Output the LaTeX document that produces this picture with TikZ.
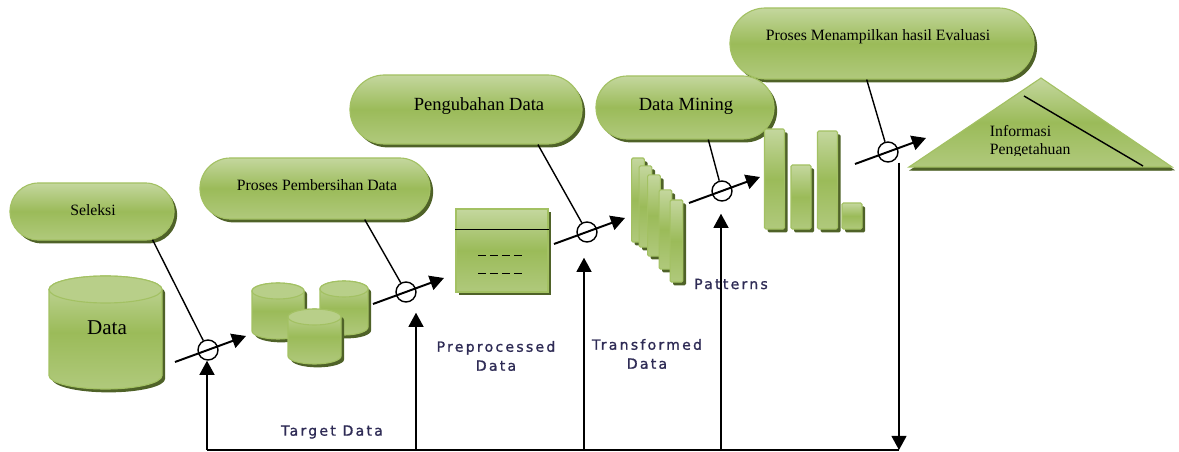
\documentclass[tikz,border=0pt]{standalone}
\usepackage{fontspec}
\setmainfont{Liberation Serif}
\newfontfamily\labelfont[LetterSpace=16,FakeBold=1.2]{DejaVu Sans}
\usetikzlibrary{arrows.meta,shapes.misc,shadows,calc}

\definecolor{oliveT}{HTML}{C4D79E}
\definecolor{oliveM}{HTML}{9BBB59}
\definecolor{oliveB}{HTML}{B0C97C}
\definecolor{oliveEdge}{HTML}{A3C163}
\definecolor{oliveShadow}{HTML}{4F6228}
\definecolor{navytext}{HTML}{2E2B55}

% name, cx, cy, half width, half height, cap radius
\newcommand{\tabung}[6]{%
  \coordinate (#1) at (#2,#3);
  \path[gfill] ($(#1)+(-#4,-#5+#6)$) -- ($(#1)+(-#4,#5-#6)$)
    arc[start angle=180,end angle=360,x radius=#4*0.025cm,y radius=#6*0.025cm]
    -- ($(#1)+(#4,-#5+#6)$)
    arc[start angle=0,end angle=180,x radius=#4*0.025cm,y radius=#6*0.025cm] -- cycle;
  \draw[draw=oliveEdge,line width=0.8pt,fill=oliveT!70!oliveM] ($(#1)+(0,-#5+#6)$)
    ellipse[x radius=#4*0.025cm,y radius=#6*0.025cm];
}

\begin{document}
\begin{tikzpicture}[x=0.025cm,y=-0.025cm,
  gfill/.style={draw=oliveEdge,line width=0.8pt,top color=oliveT,bottom color=oliveB,middle color=oliveM,
    drop shadow={shadow xshift=2.2pt,shadow yshift=-2.4pt,fill=oliveShadow,opacity=1}},
  pill/.style={gfill,rounded rectangle,inner sep=0pt},
  gbar/.style={gfill,rectangle,rounded corners=1pt,inner sep=0pt},
  ring/.style={circle,draw,line width=1pt,minimum size=0.5cm,inner sep=0pt},
  flow/.style={line width=1.4pt,-{Triangle[length=10pt,width=10.5pt]}},
  tie/.style={line width=1pt},
  tag/.style={text=navytext,font=\labelfont\fontsize{10}{13.5}\selectfont,align=center},
  body/.style={font=\fontsize{11.2}{12.8}\selectfont},
  big/.style={font=\fontsize{13.2}{15}\selectfont}]

\useasboundingbox (0,0) rectangle (1179,452);

\node[pill,minimum width=4.1cm,minimum height=1.425cm] (seleksi) at (92,211.5) {};
\node[body] (tseleksi) at (93,210) {Seleksi};
\node[pill,minimum width=5.75cm,minimum height=1.525cm] (bersih) at (315,188.5) {};
\node[body] (tbersih) at (317,185) {Proses Pembersihan Data};
\node[pill,minimum width=5.8cm,minimum height=1.725cm] (ubah) at (466,109.5) {};
\node[big] (tubah) at (479,106) {Pengubahan Data};
\node[pill,minimum width=7.6cm,minimum height=1.775cm] (tampil) at (882,43.5) {};
\node[body] (ttampil) at (878,37) {Proses Menampilkan hasil Evaluasi};
\node[pill,minimum width=4.45cm,minimum height=1.575cm] (mining) at (685,107.5) {};
\node[big] (tmining) at (686,106) {Data Mining};

\tabung{data}{105.5}{332.5}{56.5}{56.5}{13.5}
\node[font=\fontsize{15}{18}\selectfont] (tdata) at (107,328) {Data};
\tabung{dbA}{278}{311}{26}{28}{8}
\tabung{dbB}{344}{308}{24}{27}{8}
\tabung{dbC}{314.5}{336.5}{26.5}{27.5}{8}

\node[gfill,rectangle,minimum width=2.3cm,minimum height=2.075cm,inner sep=0pt] (tabel) at (502,250.5) {};
\draw[tie] ($(tabel.north west)!0.253!(tabel.south west)$) -- ($(tabel.north east)!0.253!(tabel.south east)$);
\draw[line width=0.6pt,dash pattern=on 5.7pt off 2.8pt] ($(tabel.center)+(-24,4.5)$) -- +(44,0);
\draw[line width=0.6pt,dash pattern=on 5.7pt off 2.8pt] ($(tabel.center)+(-24,22.5)$) -- +(44,0);

\foreach \x/\y/\h [count=\i] in {638/200/2.1, 645.5/206.5/2.03, 654/215.5/2.03, 665.5/229.5/1.98, 676.5/241/2.05}
  \node[gbar,minimum width=0.32cm,minimum height=\h cm] (pat\i) at (\x,\y) {};

\foreach \x/\y/\h [count=\i] in {774.5/179/2.5, 801/197/1.6, 827.5/180/2.45, 852/216/0.65}
  \node[gbar,minimum width=0.5cm,minimum height=\h cm] (hasil\i) at (\x,\y) {};

\path[gfill,drop shadow={shadow xshift=0pt,shadow yshift=-2.6pt,fill=oliveShadow,opacity=1}]
  (909,167) -- (1041,78) -- (1172,167) -- cycle;
\draw[tie] (1024,96) -- (1143,166);
\begin{scope}
  \clip (900,60) rectangle (1179,156);
  \node[body,align=left,anchor=west] (info) at (985,142) {Informasi\\Pengetahuan};
\end{scope}

\node[tag] (target) at (332,432) {Target Data};
\node[tag] (prepro) at (496,356) {Preprocessed\\Data};
\node[tag] (transf) at (647,354) {Transformed\\Data};
\node[tag] (pola) at (731,284) {Patterns};

\node[ring] (c1) at (208,350) {};
\node[ring] (c2) at (406,292) {};
\node[ring] (c3) at (587,232) {};
\node[ring] (c4) at (722,191) {};
\node[ring] (c5) at (888,152) {};

\draw[tie] (seleksi.-25) -- (c1);
\draw[tie] (bersih.-32) -- (c2);
\draw[tie] (ubah.-26) -- (c3);
\draw[tie] (mining.-54) -- (c4);
\draw[tie] (tampil.-113) -- (c5);

\foreach \i in {1,...,5}
  \draw[flow] ($(c\i)+(-33,12)$) -- ($(c\i)+(38,-14)$);

\coordinate (f1) at (207,450);
\coordinate (f2) at (416,450);
\coordinate (f3) at (584,450);
\coordinate (f4) at (721,450);
\coordinate (f5) at (899,450);
\draw[line width=1.4pt] (f1) -- (f5);
\draw[flow] (f1) -- (f1 |- c1.south);
\draw[flow] (f2) -- ($(f2 |- c2.south)+(0,10)$);
\draw[flow] (f3) -- ($(f3 |- c3.south)+(0,15)$);
\draw[flow] (f4) -- ($(f4 |- c4.south)+(0,12)$);
\draw[flow] (f5 |- c5.south) -- (f5);
\end{tikzpicture}
\end{document}
